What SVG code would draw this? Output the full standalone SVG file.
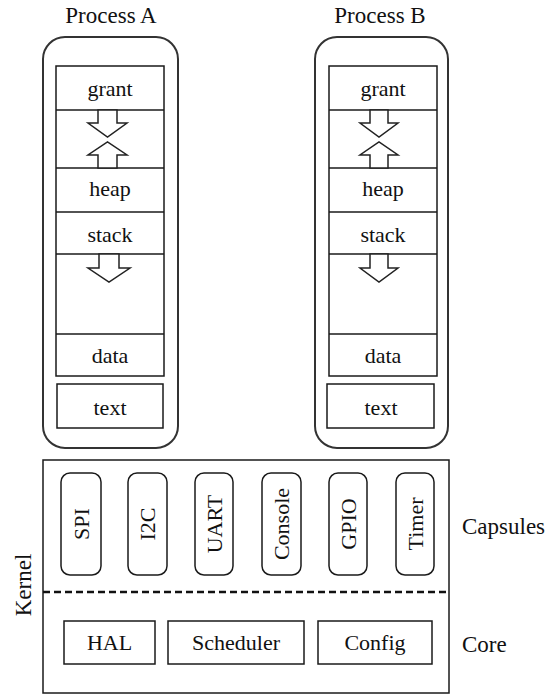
<svg xmlns="http://www.w3.org/2000/svg" width="550" height="696" viewBox="0 0 550 696" font-family="Liberation Serif, DejaVu Serif, serif">
<style>
  .bg { fill: #ffffff; }
  .proc { fill: none; stroke: #333; stroke-width: 2; }
  .box { fill: #ffffff; stroke: #1a1a1a; stroke-width: 1.5; }
  .ln { stroke: #1a1a1a; stroke-width: 1.5; fill: none; }
  .arr { fill: #ffffff; stroke: #222; stroke-width: 1.5; stroke-linejoin: miter; }
  .t { font-size: 22px; text-anchor: middle; fill: #111; }
  .title { font-size: 23px; text-anchor: middle; fill: #111; }
  .side { font-size: 23px; fill: #111; }
  .cap { fill: #ffffff; stroke: #1a1a1a; stroke-width: 1.5; }
  .dash { stroke: #111; stroke-width: 2.5; stroke-dasharray: 7 4; }
</style>
<rect class="bg" x="0" y="0" width="550" height="696"/>

<g id="processA">
  <text class="title" x="111" y="23" font-family="Liberation Serif, serif">Process A</text>
  <rect class="proc" x="43" y="37" width="135" height="411" rx="22"/>
  <rect class="ln" x="56" y="66" width="108" height="310"/>
  <line class="ln" x1="56" y1="110" x2="164" y2="110"/>
  <line class="ln" x1="56" y1="168" x2="164" y2="168"/>
  <line class="ln" x1="56" y1="212" x2="164" y2="212"/>
  <line class="ln" x1="56" y1="254" x2="164" y2="254"/>
  <line class="ln" x1="56" y1="334" x2="164" y2="334"/>
  <text class="t" x="110" y="96" font-family="Liberation Serif, serif">grant</text>
  <text class="t" x="110" y="196" font-family="Liberation Serif, serif">heap</text>
  <text class="t" x="110" y="242" font-family="Liberation Serif, serif">stack</text>
  <text class="t" x="110" y="363" font-family="Liberation Serif, serif">data</text>
  <rect class="box" x="57" y="384" width="106" height="44"/>
  <text class="t" x="110" y="415" font-family="Liberation Serif, serif">text</text>
  <polygon class="arr" points="98,110 117,110 117,123 127,123 107.5,137 88,123 98,123"/>
  <polygon class="arr" points="98,168 117,168 117,155 127,155 107.5,142 88,155 98,155"/>
  <polygon class="arr" points="99,254 119,254 119,268 130,268 109,282 88,268 99,268"/>
</g>

<g id="processB">
  <text class="title" x="380" y="23" font-family="Liberation Serif, serif">Process B</text>
  <rect class="proc" x="315" y="37" width="133" height="411" rx="22"/>
  <rect class="ln" x="329" y="66" width="108" height="310"/>
  <line class="ln" x1="329" y1="110" x2="437" y2="110"/>
  <line class="ln" x1="329" y1="168" x2="437" y2="168"/>
  <line class="ln" x1="329" y1="212" x2="437" y2="212"/>
  <line class="ln" x1="329" y1="254" x2="437" y2="254"/>
  <line class="ln" x1="329" y1="334" x2="437" y2="334"/>
  <text class="t" x="383" y="96" font-family="Liberation Serif, serif">grant</text>
  <text class="t" x="383" y="196" font-family="Liberation Serif, serif">heap</text>
  <text class="t" x="383" y="242" font-family="Liberation Serif, serif">stack</text>
  <text class="t" x="383" y="363" font-family="Liberation Serif, serif">data</text>
  <rect class="box" x="327" y="384" width="107" height="44"/>
  <text class="t" x="381" y="415" font-family="Liberation Serif, serif">text</text>
  <polygon class="arr" points="370,110 388,110 388,123 398,123 379,137 360,123 370,123"/>
  <polygon class="arr" points="370,168 388,168 388,155 398,155 379,142 360,155 370,155"/>
  <polygon class="arr" points="370,254 388,254 388,268 398,268 379,282 360,268 370,268"/>
</g>

<g id="kernel">
  <rect class="ln" x="43" y="460" width="406" height="233"/>
  <line class="dash" x1="43" y1="592" x2="449" y2="592"/>
  <text class="side" x="0" y="0" text-anchor="middle" dominant-baseline="central" transform="translate(23,585) rotate(-90)" font-family="Liberation Serif, serif">Kernel</text>
  <text class="side" x="462" y="534" font-family="Liberation Serif, serif">Capsules</text>
  <text class="side" x="462" y="652" font-family="Liberation Serif, serif">Core</text>
</g>

<g id="spi">
  <rect class="cap" x="61" y="473" width="40" height="102" rx="9"/>
  <text class="t" dominant-baseline="central" transform="translate(81,524) rotate(-90)" font-family="Liberation Serif, serif">SPI</text>
</g>
<g id="i2c">
  <rect class="cap" x="128" y="473" width="39" height="102" rx="9"/>
  <text class="t" dominant-baseline="central" transform="translate(147.5,524) rotate(-90)" font-family="Liberation Serif, serif">I2C</text>
</g>
<g id="uart">
  <rect class="cap" x="195" y="473" width="38" height="102" rx="9"/>
  <text class="t" dominant-baseline="central" transform="translate(214,524) rotate(-90)" font-family="Liberation Serif, serif">UART</text>
</g>
<g id="console">
  <rect class="cap" x="262" y="473" width="39" height="102" rx="9"/>
  <text class="t" dominant-baseline="central" transform="translate(281.5,524) rotate(-90)" font-family="Liberation Serif, serif">Console</text>
</g>
<g id="gpio">
  <rect class="cap" x="329" y="473" width="38" height="102" rx="9"/>
  <text class="t" dominant-baseline="central" transform="translate(348,524) rotate(-90)" font-family="Liberation Serif, serif">GPIO</text>
</g>
<g id="timer">
  <rect class="cap" x="396" y="473" width="38" height="102" rx="9"/>
  <text class="t" dominant-baseline="central" transform="translate(415,524) rotate(-90)" font-family="Liberation Serif, serif">Timer</text>
</g>

<g id="hal">
  <rect class="box" x="64" y="621" width="91" height="43"/>
  <text class="t" x="109.5" y="650" font-family="Liberation Serif, serif">HAL</text>
</g>
<g id="scheduler">
  <rect class="box" x="168" y="621" width="136" height="43"/>
  <text class="t" x="236" y="650" font-family="Liberation Serif, serif">Scheduler</text>
</g>
<g id="config">
  <rect class="box" x="318" y="621" width="114" height="43"/>
  <text class="t" x="375" y="650" font-family="Liberation Serif, serif">Config</text>
</g>

<g id="connectors"></g>
</svg>
